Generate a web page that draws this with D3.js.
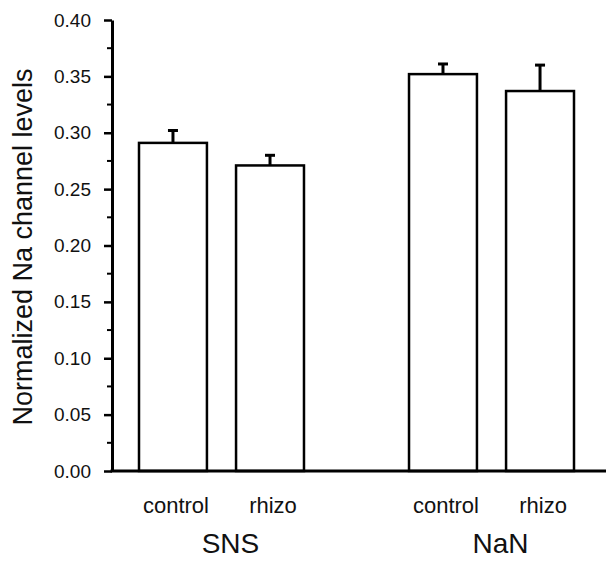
<!DOCTYPE html>
<html>
<head>
<meta charset="utf-8">
<script src="https://cdn.jsdelivr.net/npm/d3@7"></script>
<style>
  body { margin: 0; background: #fff; }
  text { font-family: "Liberation Sans", Arial, Helvetica, sans-serif; fill: #111; }
</style>
</head>
<body>
<svg id="chart" width="606" height="561"></svg>
<script>
// values
var groups = ["SNS", "NaN"];
var conditions = ["control", "rhizo"];
var snsMeans = [0.291, 0.271];
var snsErrors = [0.011, 0.009];
var nanMeans = [0.352, 0.337];
var nanErrors = [0.009, 0.023];
var yTicks = [0, 0.05, 0.10, 0.15, 0.20, 0.25, 0.30, 0.35, 0.40];
var yTitle = "Normalized Na channel levels";

var bars = [];
groups.forEach(function(g, gi) {
    var means = gi == 0 ? snsMeans : nanMeans;
    var errs = gi == 0 ? snsErrors : nanErrors;
    conditions.forEach(function(c, ci) {
        bars.push({group: g, cond: c, mean: means[ci], err: errs[ci]});
    });
});

var svg = d3.select("#chart");
var plotLeft = 112, plotBottom = 471, plotTop = 20;

var y = d3.scaleLinear().domain([0, 0.40]).range([plotBottom, plotTop]);
var x0 = d3.scaleBand().domain(groups).range([plotLeft, 601])
    .paddingInner(0.389).paddingOuter(0.1);
var x1 = d3.scaleBand().domain(conditions).range([0, x0.bandwidth()])
    .paddingInner(0.3).paddingOuter(0);

// minor ticks
var minor = d3.range(0.025, 0.40, 0.05);
svg.append("g")
    .selectAll("line")
    .data(minor)
    .enter().append("line")
    .attr("x1", plotLeft - 5).attr("x2", plotLeft)
    .attr("y1", function(d) { return y(d); })
    .attr("y2", function(d) { return y(d); })
    .attr("stroke", "#000").attr("stroke-width", 2);

// y axis
var yAxis = svg.append("g")
    .attr("transform", "translate(" + plotLeft + ",0)")
    .call(d3.axisLeft(y).tickValues(yTicks).tickFormat(d3.format(".2f"))
        .tickSize(8).tickSizeOuter(0).tickPadding(13));
yAxis.select(".domain").attr("stroke", "#000").attr("stroke-width", 3);
yAxis.selectAll(".tick line").attr("stroke", "#000").attr("stroke-width", 2.5);
yAxis.selectAll(".tick text")
    .style("font-family", '"Liberation Sans", Arial, sans-serif')
    .attr("font-size", 19).attr("fill", "#111");

// bars
var g = svg.append("g");
g.selectAll("rect")
    .data(bars)
    .enter().append("rect")
    .attr("x", function(d) { return x0(d.group) + x1(d.cond); })
    .attr("y", function(d) { return y(d.mean); })
    .attr("width", x1.bandwidth())
    .attr("height", function(d) { return plotBottom - y(d.mean); })
    .attr("fill", "#fff")
    .attr("stroke", "#000")
    .attr("stroke-width", 2.5);

// error bars (upper only)
var cx = function(d) { return x0(d.group) + x1(d.cond) + x1.bandwidth() / 2; };
g.selectAll(".stem")
    .data(bars)
    .enter().append("line")
    .attr("class", "stem")
    .attr("x1", cx).attr("x2", cx)
    .attr("y1", function(d) { return y(d.mean); })
    .attr("y2", function(d) { return y(d.mean + d.err); })
    .attr("stroke", "#000").attr("stroke-width", 3);
g.selectAll(".cap")
    .data(bars)
    .enter().append("line")
    .attr("class", "cap")
    .attr("x1", function(d) { return cx(d) - 5; })
    .attr("x2", function(d) { return cx(d) + 5; })
    .attr("y1", function(d) { return y(d.mean + d.err); })
    .attr("y2", function(d) { return y(d.mean + d.err); })
    .attr("stroke", "#000").attr("stroke-width", 3);

// x axis line
svg.append("line")
    .attr("x1", plotLeft - 1.5).attr("x2", 606)
    .attr("y1", plotBottom).attr("y2", plotBottom)
    .attr("stroke", "#000").attr("stroke-width", 3);

// condition labels
svg.append("g")
    .selectAll("text")
    .data(bars)
    .enter().append("text")
    .attr("x", function(d) { return cx(d) + 3; })
    .attr("y", 513)
    .attr("text-anchor", "middle")
    .attr("font-size", 22)
    .text(function(d) { return d.cond; });

// group labels
svg.append("g")
    .selectAll("text")
    .data(groups)
    .enter().append("text")
    .attr("x", function(d) { return x0(d) + x0.bandwidth() / 2 + 9; })
    .attr("y", 553)
    .attr("text-anchor", "middle")
    .attr("font-size", 28)
    .text(function(d) { return d; });

// y title
svg.append("text")
    .attr("transform", "translate(32,247) rotate(-90)")
    .attr("text-anchor", "middle")
    .attr("font-size", 27)
    .text(yTitle);
</script>
</body>
</html>
